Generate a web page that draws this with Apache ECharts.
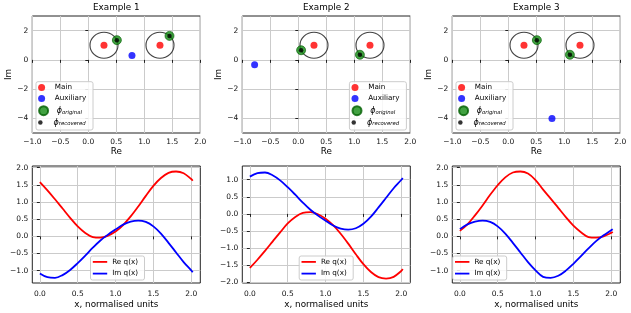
<!DOCTYPE html>
<html><head><meta charset="utf-8">
<script src="https://cdn.jsdelivr.net/npm/echarts@6/dist/echarts.min.js"></script>
<style>html,body{margin:0;padding:0;background:#fff}#c{width:631px;height:313px}</style>
</head><body><div id="c"></div>
<script>
// ---------- data ----------
const titles = ['Example 1', 'Example 2', 'Example 3'];
const mainPoints = [[0.28, 1.0], [1.28, 1.0]];
const auxPoints = [[0.78, 0.30], [-0.78, -0.33], [0.78, -4.0]];
const phiOriginal = [
  [[0.51, 1.35], [1.45, 1.64]],
  [[0.05, 0.66], [1.10, 0.35]],
  [[0.51, 1.35], [1.10, 0.35]]
];
const phiRecovered = [
  [[0.51, 1.35], [1.45, 1.64]],
  [[0.05, 0.66], [1.10, 0.35]],
  [[0.51, 1.35], [1.10, 0.35]]
];
const xs = [0, 0.1, 0.2, 0.3, 0.4, 0.5, 0.6, 0.7, 0.8, 0.9, 1.0, 1.1, 1.2, 1.3, 1.4, 1.5, 1.6, 1.7, 1.8, 1.9, 2.0, 2.02];
const re1 = [1.58, 1.34, 1.08, 0.81, 0.54, 0.29, 0.10, -0.02, -0.04, 0.02, 0.14, 0.33, 0.58, 0.87, 1.18, 1.47, 1.70, 1.85, 1.89, 1.84, 1.67, 1.62];
const im1 = [-1.08, -1.19, -1.21, -1.13, -0.98, -0.78, -0.56, -0.33, -0.12, 0.05, 0.20, 0.34, 0.43, 0.46, 0.42, 0.29, 0.08, -0.19, -0.47, -0.75, -0.99, -1.05];
const re2 = [-1.58, -1.34, -1.08, -0.81, -0.54, -0.28, -0.09, 0.03, 0.05, -0.01, -0.14, -0.33, -0.58, -0.87, -1.18, -1.47, -1.70, -1.85, -1.89, -1.84, -1.67, -1.61];
const im2 = [1.09, 1.19, 1.21, 1.13, 0.98, 0.78, 0.56, 0.33, 0.12, -0.05, -0.20, -0.34, -0.43, -0.46, -0.42, -0.29, -0.08, 0.19, 0.47, 0.75, 0.99, 1.05];
const re3 = [0.16, 0.35, 0.61, 0.90, 1.21, 1.49, 1.72, 1.86, 1.89, 1.83, 1.64, 1.36, 1.10, 0.83, 0.56, 0.31, 0.12, -0.02, -0.04, 0.00, 0.10, 0.13];
const im3 = [0.21, 0.35, 0.43, 0.46, 0.42, 0.29, 0.08, -0.19, -0.47, -0.75, -0.99, -1.18, -1.21, -1.15, -1.00, -0.80, -0.58, -0.35, -0.14, 0.03, 0.18, 0.21];
const reSeries = [re1, re2, re3];
const imSeries = [im1, im2, im3];
const topXTicks = [-1, -0.5, 0, 0.5, 1, 1.5, 2];
const topYTicks = [-4, -2, 0, 2];
const botXTicks = [0, 0.5, 1, 1.5, 2];
const botYTicks = [[-1, -0.5, 0, 0.5, 1, 1.5, 2], [-2, -1.5, -1, -0.5, 0, 0.5, 1], [-1, -0.5, 0, 0.5, 1, 1.5, 2]];
const botYRange = [[-1.36, 2.05], [-2.02, 1.40], [-1.36, 2.05]];

// ---------- layout / style ----------
const FONT = 'DejaVu Sans';
const lefts = [32.3, 242.3, 452.3];
const PW = 168, PH = 117;
const TOP1 = 16, TOP2 = 166;
function fmt(v, d) { return (v < 0 ? '\u2212' : '') + Math.abs(v).toFixed(d); }

const grid = [], xAxis = [], yAxis = [], series = [], legend = [], title = [], graphic = [];

function mkAxis(gi, min, max, ticks, dec, margin, extra) {
  return Object.assign({
    type: 'value', gridIndex: gi, min: min, max: max,
    axisLine: { show: false },
    axisTick: { show: true, length: 3, customValues: ticks, lineStyle: { color: '#222', width: 1 } },
    axisLabel: { customValues: ticks, formatter: v => fmt(v, dec), fontSize: 7.5, color: '#111', fontFamily: FONT, margin: margin },
    splitLine: { show: true, lineStyle: { color: '#cbcbcb', width: 1 } }
  }, extra || {});
}
const nameStyle = { fontSize: 8.8, color: '#000', fontFamily: FONT };

const legendRich = {
  p: { fontSize: 8, fontStyle: 'italic', fontFamily: FONT, color: '#000' },
  s: { fontSize: 5.3, fontStyle: 'italic', fontFamily: FONT, color: '#000', padding: [3, 0, 0, 0] }
};
function legendFmt(name) {
  if (name === 'ϕ_original') return '{p|ϕ}{s|original}';
  if (name === 'ϕ_recovered') return '{p|ϕ}{s|recovered}';
  return name;
}
function legendItem(name, left, cy, iw, ih, icon, th) {
  return {
    show: true, orient: 'vertical', left: left, top: cy - Math.max(ih, th) / 2, padding: 0,
    itemWidth: iw, itemHeight: ih, icon: icon, selectedMode: false,
    data: [{ name: name, icon: icon }],
    formatter: legendFmt,
    textStyle: { fontSize: 7.2, color: '#000', fontFamily: FONT, rich: legendRich }
  };
}
function box(x, y, w, h) {
  return { type: 'rect', z: 3, silent: true, shape: { x: x, y: y, width: w, height: h, r: 2 },
    style: { fill: 'rgba(255,255,255,0.85)', stroke: '#cccccc', lineWidth: 1 } };
}

const topLegendLeft = [36, 349.4, 456];
const botLegendLeft = [90.5, 299.2, 452.7];
const topItems = [
  { name: 'Main', size: 7, dy: 6, th: 7.2 },
  { name: 'Auxiliary', size: 7, dy: 17, th: 7.2 },
  { name: 'ϕ_original', size: 9, dy: 28, th: 8.3 },
  { name: 'ϕ_recovered', size: 4.5, dy: 41, th: 8.3 }
];

for (let k = 0; k < 3; k++) {
  // ----- top row (grid k) -----
  const gi = k;
  grid[gi] = { left: lefts[k], top: TOP1, width: PW, height: PH, show: true, borderColor: '#222', borderWidth: 1, backgroundColor: '#fff' };
  xAxis[gi] = mkAxis(gi, -1, 2, topXTicks, 1, 5, { name: 'Re', nameLocation: 'middle', nameGap: 14, nameTextStyle: nameStyle });
  yAxis[gi] = mkAxis(gi, -5, 3, topYTicks, 0, 4, { name: 'Im', nameLocation: 'middle', nameGap: 19, nameRotate: 90, nameTextStyle: nameStyle });
  series.push({ type: 'scatter', name: 'ring', xAxisIndex: gi, yAxisIndex: gi, data: mainPoints, symbol: 'circle', symbolSize: [28, 26], silent: true,
    itemStyle: { color: 'rgba(0,0,0,0)', borderColor: '#111', borderWidth: 1.1 }, z: 2 });
  series.push({ type: 'scatter', name: 'Main', xAxisIndex: gi, yAxisIndex: gi, data: mainPoints, symbolSize: 7, itemStyle: { color: '#ff0000' }, z: 3 });
  series.push({ type: 'scatter', name: 'Auxiliary', xAxisIndex: gi, yAxisIndex: gi, data: [auxPoints[k]], symbolSize: 7, itemStyle: { color: '#0000ff' }, z: 3 });
  series.push({ type: 'scatter', name: 'ϕ_original', xAxisIndex: gi, yAxisIndex: gi, data: phiOriginal[k], symbolSize: 9, itemStyle: { color: '#118a11', borderColor: '#035f03', borderWidth: 0.8 }, z: 3 });
  series.push({ type: 'scatter', name: 'ϕ_recovered', xAxisIndex: gi, yAxisIndex: gi, data: phiRecovered[k], symbolSize: 4.5, itemStyle: { color: '#000' }, z: 4 });
  title.push({ text: titles[k], left: lefts[k] + PW / 2, top: 3, textAlign: 'center', padding: 0,
    textStyle: { fontSize: 8.8, fontWeight: 'normal', color: '#000', fontFamily: FONT } });
  const bl = topLegendLeft[k], bt = 81.7;
  graphic.push(box(bl, bt, 57, 48.3));
  topItems.forEach(it => legend.push(legendItem(it.name, bl + 2.1, bt + it.dy, 16.4, it.size, 'circle', it.th)));

  // ----- bottom row (grid 3+k) -----
  const gj = 3 + k;
  grid[gj] = { left: lefts[k], top: TOP2, width: PW, height: PH, show: true, borderColor: '#222', borderWidth: 1, backgroundColor: '#fff' };
  xAxis[gj] = mkAxis(gj, -0.1, 2.12, botXTicks, 1, 7.5, { name: 'x, normalised units', nameLocation: 'middle', nameGap: 17, nameTextStyle: nameStyle });
  yAxis[gj] = mkAxis(gj, botYRange[k][0], botYRange[k][1], botYTicks[k], 1, 4);
  series.push({ type: 'line', name: 'Re q(x)', xAxisIndex: gj, yAxisIndex: gj, data: xs.map((x, i) => [x, reSeries[k][i]]),
    showSymbol: false, smooth: 0.35, lineStyle: { color: '#ff0000', width: 1.8 }, itemStyle: { color: '#ff0000' }, z: 2 });
  series.push({ type: 'line', name: 'Im q(x)', xAxisIndex: gj, yAxisIndex: gj, data: xs.map((x, i) => [x, imSeries[k][i]]),
    showSymbol: false, smooth: 0.35, lineStyle: { color: '#0000ff', width: 1.8 }, itemStyle: { color: '#0000ff' }, z: 2 });
  const cl = botLegendLeft[k], ct = 256;
  graphic.push(box(cl, ct, 54, 24));
  legend.push(legendItem('Re q(x)', cl + 2.3, ct + 6, 14.4, 1.8, 'rect', 7.2));
  legend.push(legendItem('Im q(x)', cl + 2.3, ct + 17.7, 14.4, 1.8, 'rect', 7.2));
}

const chart = echarts.init(document.getElementById('c'), null, { renderer: 'canvas' });
chart.setOption({
  animation: false,
  backgroundColor: '#fff',
  title: title, grid: grid, xAxis: xAxis, yAxis: yAxis, series: series, legend: legend,
  graphic: { elements: graphic }
});
</script></body></html>
